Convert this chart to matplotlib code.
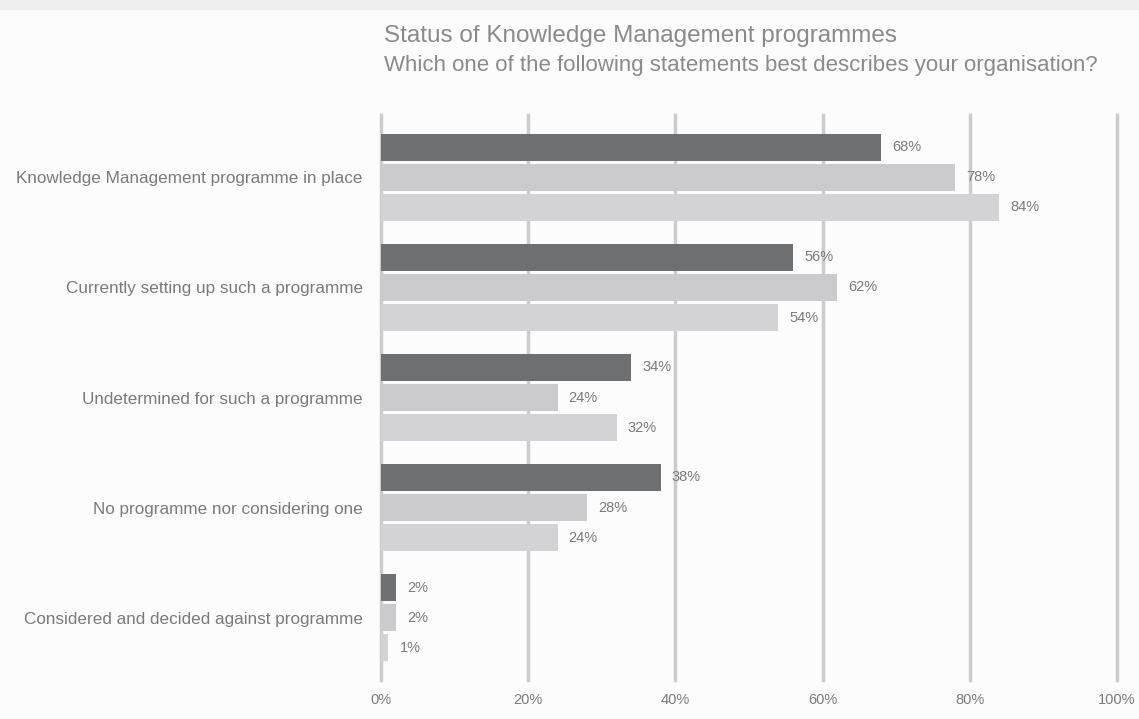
import matplotlib.pyplot as plt
import numpy as np

plt.rcParams['font.family'] = ['Liberation Sans', 'DejaVu Sans']

categories = ["Knowledge Management programme in place",
              "Currently setting up such a programme",
              "Undetermined for such a programme",
              "No programme nor considering one",
              "Considered and decided against programme"]
series_a = [68, 56, 34, 38, 2]   # dark bars
series_b = [78, 62, 24, 28, 2]
series_c = [84, 54, 32, 24, 1]
xticks = [0, 20, 40, 60, 80, 100]
xtick_labels = ["0%", "20%", "40%", "60%", "80%", "100%"]

title = "Status of Knowledge Management programmes"
subtitle = "Which one of the following statements best describes your organisation?"

text_col = "#7a7a7a"
colors = ["#6e6f71", "#cbcbcd", "#d3d3d5"]

fig = plt.figure(figsize=(11.39, 7.19), dpi=100, facecolor="#fcfcfc")
# light strip across the top
fig.patches.append(plt.Rectangle((0, 1 - 9/719), 1, 9/719, transform=fig.transFigure,
                                 color="#efefef", zorder=0))

ax = fig.add_axes([381/1139, 1 - 680/719, (1117 - 381)/1139, (680 - 115)/719])
ax.set_facecolor("#fcfcfc")

y = np.arange(len(categories))
pitch = 0.274
h = 0.245
for k, (vals, c) in enumerate(zip([series_a, series_b, series_c], colors)):
    yy = y + (k - 1) * pitch
    ax.barh(yy, vals, height=h, color=c, zorder=2)
    for v, yv in zip(vals, yy):
        ax.text(v + 1.5, yv, f"{v}%", va="center", ha="left", fontsize=10.5,
                color=text_col, zorder=3)

for t in xticks:
    ax.axvline(t, color="#cccccc", lw=2.5, zorder=1, clip_on=False)

ax.set_xlim(0, 100)
ax.set_ylim(4 + 0.565, -0.565)
ax.set_xticks(xticks)
ax.set_xticklabels(xtick_labels, fontsize=10.5, color=text_col)
ax.set_yticks(y)
ax.set_yticklabels(categories, fontsize=12.3, color=text_col)
ax.tick_params(axis="both", length=0)
ax.tick_params(axis="y", pad=13)
ax.tick_params(axis="x", pad=9)
for s in ax.spines.values():
    s.set_visible(False)

fig.text(384/1139, 1 - 36/719, title, fontsize=17.5, color="#8a8a8a", va="center", ha="left")
fig.text(384/1139, 1 - 65/719, subtitle, fontsize=16, color="#8a8a8a", va="center", ha="left")

fig.savefig("out.png", dpi=100, facecolor=fig.get_facecolor())
